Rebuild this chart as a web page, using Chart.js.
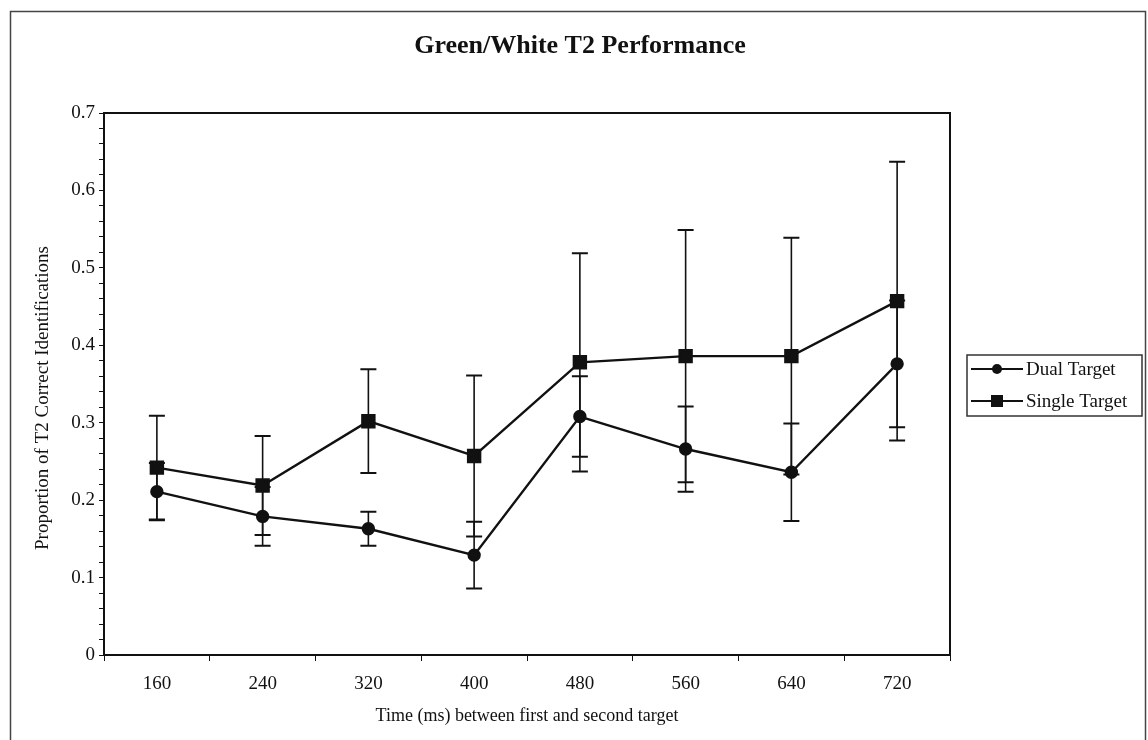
<!DOCTYPE html>
<html>
<head>
<meta charset="utf-8">
<title>Green/White T2 Performance</title>
<script src="https://cdn.jsdelivr.net/npm/chart.js@4.4.1/dist/chart.umd.min.js"></script>
<style>
  html, body { margin: 0; padding: 0; background: #fff; }
  #wrap { width: 1148px; height: 740px; position: relative; }
</style>
</head>
<body>
<div id="wrap"><canvas id="chartT2"></canvas></div>
<script>
const timeLabels = ["160", "240", "320", "400", "480", "560", "640", "720"];
const dualMeans = [0.211, 0.179, 0.163, 0.129, 0.308, 0.266, 0.236, 0.376];
const dualErrors = [0.037, 0.038, 0.022, 0.043, 0.052, 0.055, 0.063, 0.082];
const singleMeans = [0.242, 0.219, 0.302, 0.257, 0.378, 0.386, 0.386, 0.457];
const singleErrors = [0.067, 0.064, 0.067, 0.104, 0.141, 0.163, 0.153, 0.180];

const chartTitle = "Green/White T2 Performance";
const xTitle = "Time (ms) between first and second target";
const yTitle = "Proportion of T2 Correct Identifications";

const SERIF = "'Liberation Serif', 'Times New Roman', serif";
const INK = "#111";

Chart.defaults.font.family = SERIF;
Chart.defaults.color = INK;

// error bars drawn under the lines and markers
const errorBarPlugin = {
  id: "errorBarPlugin",
  beforeDatasetsDraw(chart) {
    const { ctx } = chart;
    const yScale = chart.scales.y;
    ctx.save();
    ctx.strokeStyle = INK;
    chart.data.datasets.forEach((ds, di) => {
      const meta = chart.getDatasetMeta(di);
      const errs = ds.errors || [];
      meta.data.forEach((pt, i) => {
        const v = ds.data[i];
        const e = errs[i] || 0;
        const yTop = yScale.getPixelForValue(v + e);
        const yBot = yScale.getPixelForValue(v - e);
        const x = pt.x;
        ctx.lineWidth = 1.6;
        ctx.beginPath();
        ctx.moveTo(x, yTop);
        ctx.lineTo(x, yBot);
        ctx.stroke();
        ctx.lineWidth = 2;
        ctx.beginPath();
        ctx.moveTo(x - 8, yTop);
        ctx.lineTo(x + 8, yTop);
        ctx.moveTo(x - 8, yBot);
        ctx.lineTo(x + 8, yBot);
        ctx.stroke();
      });
    });
    ctx.restore();
  }
};

// outer frame, plot box, titles and the boxed legend
const framePlugin = {
  id: "framePlugin",
  beforeDraw(chart) {
    const { ctx } = chart;
    ctx.save();
    ctx.strokeStyle = "#444";
    ctx.lineWidth = 1.5;
    ctx.strokeRect(10.5, 11.5, 1135, 760);
    ctx.restore();
  },
  afterDraw(chart) {
    const { ctx, chartArea } = chart;
    ctx.save();
    ctx.strokeStyle = INK;
    ctx.lineWidth = 2;
    ctx.strokeRect(chartArea.left, chartArea.top, chartArea.right - chartArea.left, chartArea.bottom - chartArea.top);

    ctx.fillStyle = INK;
    ctx.textAlign = "center";
    ctx.textBaseline = "middle";
    ctx.font = "bold 26px " + SERIF;
    ctx.fillText(chartTitle, 580, 46);

    // y axis title, centred a little below the plot middle as in the source
    ctx.save();
    ctx.translate(43, 398);
    ctx.rotate(-Math.PI / 2);
    ctx.font = "19px " + SERIF;
    ctx.fillText(yTitle, 0, 0);
    ctx.restore();

    // legend
    const bx = 967, by = 355, bw = 175, bh = 61;
    ctx.lineWidth = 1.5;
    ctx.strokeStyle = "#333";
    ctx.strokeRect(bx, by, bw, bh);
    ctx.font = "19px " + SERIF;
    ctx.textAlign = "left";
    chart.data.datasets.forEach((ds, i) => {
      const y = by + 14 + i * 32;
      ctx.strokeStyle = INK;
      ctx.lineWidth = 2.2;
      ctx.beginPath();
      ctx.moveTo(bx + 4, y);
      ctx.lineTo(bx + 56, y);
      ctx.stroke();
      ctx.fillStyle = INK;
      ctx.beginPath();
      if (ds.pointStyle === "rect") {
        ctx.rect(bx + 24, y - 6, 12, 12);
      } else {
        ctx.arc(bx + 30, y, 5, 0, Math.PI * 2);
      }
      ctx.fill();
      ctx.fillText(ds.label, bx + 59, y + 1);
    });
    ctx.restore();
  }
};

new Chart(document.getElementById("chartT2"), {
  type: "line",
  data: {
    labels: timeLabels,
    datasets: [
      {
        label: "Dual Target",
        data: dualMeans,
        errors: dualErrors,
        borderColor: INK,
        backgroundColor: INK,
        borderWidth: 2.4,
        pointStyle: "circle",
        pointRadius: 5.5,
        tension: 0
      },
      {
        label: "Single Target",
        data: singleMeans,
        errors: singleErrors,
        borderColor: INK,
        backgroundColor: INK,
        borderWidth: 2.4,
        pointStyle: "rect",
        pointRadius: 8.5,
        tension: 0
      }
    ]
  },
  options: {
    responsive: true,
    maintainAspectRatio: false,
    animation: false,
    layout: {
      padding: { top: 113, left: 12, right: 198, bottom: 0 }
    },
    plugins: {
      legend: { display: false },
      title: { display: false },
      tooltip: { enabled: false }
    },
    scales: {
      x: {
        type: "category",
        offset: true,
        afterFit(scale) {
          scale.height = 85;
        },
        border: { color: INK, width: 2 },
        grid: {
          offset: true,
          drawOnChartArea: false,
          color: INK,
          tickLength: 6
        },
        ticks: {
          font: { size: 19 },
          color: INK,
          padding: 12,
          maxRotation: 0
        },
        title: {
          display: true,
          text: xTitle,
          font: { size: 18 },
          color: INK,
          padding: { top: 0, bottom: 13 }
        }
      },
      y: {
        min: 0,
        max: 0.7,
        afterFit(scale) {
          scale.width = 92;
        },
        border: { color: INK, width: 2 },
        grid: {
          drawOnChartArea: false,
          color: INK,
          tickLength: 5
        },
        ticks: {
          stepSize: 0.02,
          autoSkip: false,
          font: { size: 19 },
          color: INK,
          padding: 4,
          callback(value) {
            const hundredths = Math.round(value * 100);
            if (hundredths % 10 !== 0) return "";
            return hundredths === 0 ? "0" : String(hundredths / 100);
          }
        }
      }
    }
  },
  plugins: [errorBarPlugin, framePlugin]
});
</script>
</body>
</html>
